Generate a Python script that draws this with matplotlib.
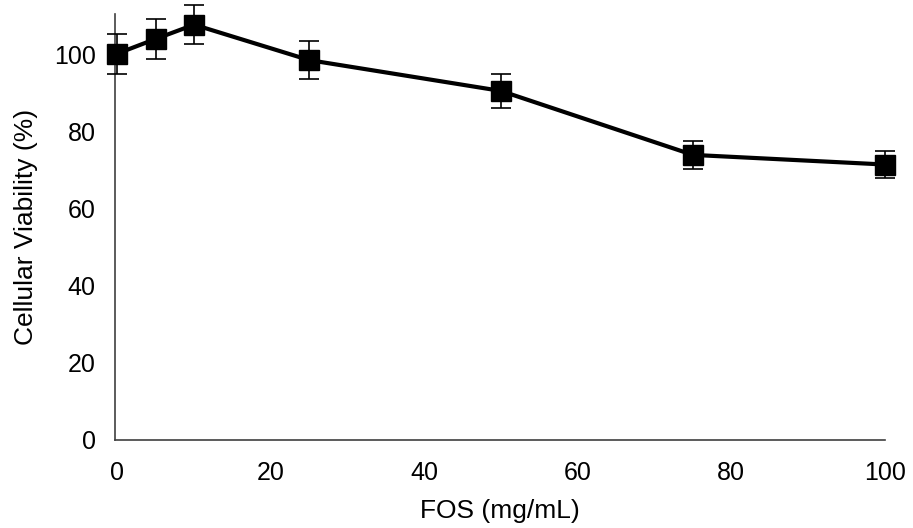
import matplotlib
matplotlib.use("Agg")
import matplotlib.pyplot as plt

fos = [0, 5, 10, 25, 50, 75, 100]
viability = [100.3, 104.1, 107.8, 98.6, 90.6, 74.0, 71.5]
err = [5.2, 5.3, 5.0, 5.0, 4.5, 3.6, 3.5]

plt.rcParams['font.family'] = ['Liberation Sans', 'DejaVu Sans']
fig = plt.figure(figsize=(9.13, 5.28), dpi=100)
ax = fig.add_axes([0.126, 0.1667, 0.843, 0.807])
ax.errorbar(fos, viability, yerr=err, color='black', lw=3, marker='s', ms=14,
            ecolor='black', elinewidth=1.2, capsize=7, capthick=1.2, zorder=3, clip_on=False)
ax.set_xlim(-0.3, 100)
ax.set_ylim(0, 110.6)
ax.set_xticks([0, 20, 40, 60, 80, 100])
ax.set_yticks([0, 20, 40, 60, 80, 100])
for s in ['top', 'right']:
    ax.spines[s].set_visible(False)
for s in ['left', 'bottom']:
    ax.spines[s].set_color('#404040')
    ax.spines[s].set_linewidth(1.2)
ax.tick_params(length=0, labelsize=18)
ax.tick_params(axis='y', pad=14)
ax.tick_params(axis='x', pad=15)
ax.set_xlabel('FOS (mg/mL)', fontsize=19, labelpad=10)
ax.set_ylabel('Cellular Viability (%)', fontsize=19, labelpad=11)
fig.savefig('out.png', dpi=100)
